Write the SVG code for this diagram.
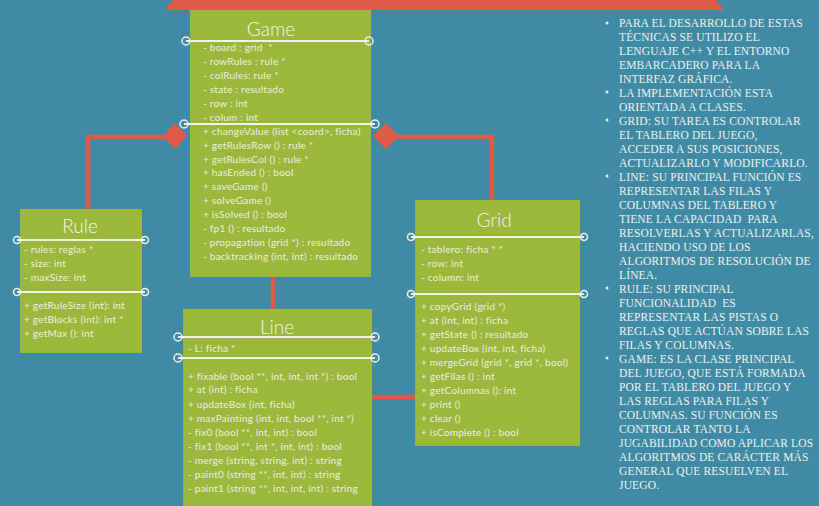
<svg xmlns="http://www.w3.org/2000/svg" width="819" height="506" viewBox="0 0 819 506">
<style>
.bg{fill:#3F8BA5}
.box{fill:#9BB83C}
.red{fill:#E05A47}
.conn{stroke:#E05A47;stroke-width:4.5;fill:none}
.div{stroke:#F2F2E6;stroke-width:1.8}
.dot{fill:none;stroke:#F2F2E6;stroke-width:1.5}
.t{font-family:Lato,"Open Sans",sans-serif;font-size:10px;letter-spacing:0.25px;fill:#EEF1E0;white-space:pre}
.h{font-family:Lato,"Open Sans",sans-serif;font-size:19px;font-weight:300;fill:#F4F6EA;text-anchor:middle}
.r{font-family:"Liberation Serif","DejaVu Serif",serif;font-size:11.5px;fill:#F2F2EE;white-space:pre;letter-spacing:0.15px}
</style>
<rect class="bg" x="0" y="0" width="819" height="506"/>
<polygon class="red" points="173,0 716,0 724,10 165,10"/>

<g id="connectors">
  <polyline class="conn" points="175,137 88,137 88,209"/>
  <polyline class="conn" points="386,137 492,137 492,200"/>
  <line class="conn" x1="273" y1="277" x2="273" y2="309"/>
  <line class="conn" x1="372" y1="397" x2="415" y2="397"/>
  <polygon class="red" points="175,123 187,136 175,149 163,136"/>
  <polygon class="red" points="386,123 399,136 386,149 373,136"/>
</g>

<g id="game">
  <rect class="box" x="190" y="10" width="181" height="267"/>
  <text class="h" x="271" y="36">Game</text>
  <line class="div" x1="186" y1="41" x2="369" y2="41"/>
  <circle class="dot" cx="186" cy="41" r="4"/>
  <circle class="dot" cx="369" cy="41" r="4"/>
  <line class="div" x1="184" y1="124" x2="375" y2="124"/>
  <circle class="dot" cx="184" cy="124" r="4"/>
  <circle class="dot" cx="375" cy="124" r="4"/>
  <text class="t" x="203" y="50.5">- board : grid  *</text>
  <text class="t" x="203" y="64.5">- rowRules : rule *</text>
  <text class="t" x="203" y="78.5">- colRules: rule *</text>
  <text class="t" x="203" y="92.5">- state : resultado</text>
  <text class="t" x="203" y="106.5">- row : int</text>
  <text class="t" x="203" y="120.5">- colum : int</text>
  <text class="t" x="203" y="134.5">+ changeValue (list &lt;coord&gt;, ficha)</text>
  <text class="t" x="203" y="148.5">+ getRulesRow () : rule *</text>
  <text class="t" x="203" y="162.5">+ getRulesCol () : rule *</text>
  <text class="t" x="203" y="176">+ hasEnded () : bool</text>
  <text class="t" x="203" y="190">+ saveGame ()</text>
  <text class="t" x="203" y="204">+ solveGame ()</text>
  <text class="t" x="203" y="218">+ isSolved () : bool</text>
  <text class="t" x="203" y="231.5">- fp1 () : resultado</text>
  <text class="t" x="203" y="245.5">- propagation (grid *) : resultado</text>
  <text class="t" x="203" y="259.5">- backtracking (int, int) : resultado</text>
</g>

<g id="rule">
  <rect class="box" x="20" y="209" width="122" height="144"/>
  <text class="h" x="80" y="232.5">Rule</text>
  <line class="div" x1="17" y1="240" x2="145" y2="240"/>
  <circle class="dot" cx="17" cy="240" r="3.5"/>
  <circle class="dot" cx="145" cy="240" r="3.5"/>
  <line class="div" x1="17" y1="292" x2="145" y2="292"/>
  <circle class="dot" cx="17" cy="292" r="3.5"/>
  <circle class="dot" cx="145" cy="292" r="3.5"/>
  <text class="t" x="24" y="252.5">- rules: reglas *</text>
  <text class="t" x="24" y="266.5">- size: int</text>
  <text class="t" x="24" y="280.5">- maxSize: int</text>
  <text class="t" x="24" y="308.5">+ getRuleSize (int): int</text>
  <text class="t" x="24" y="322.5">+ getBlocks (int): int *</text>
  <text class="t" x="24" y="336.5">+ getMax (): int</text>
</g>

<g id="grid">
  <rect class="box" x="415" y="200" width="165" height="246"/>
  <text class="h" x="494" y="226.5">Grid</text>
  <line class="div" x1="411" y1="237" x2="584" y2="237"/>
  <circle class="dot" cx="411" cy="237" r="3.5"/>
  <circle class="dot" cx="584" cy="237" r="3.5"/>
  <line class="div" x1="411" y1="294" x2="584" y2="294"/>
  <circle class="dot" cx="411" cy="294" r="3.5"/>
  <circle class="dot" cx="584" cy="294" r="3.5"/>
  <text class="t" x="421" y="252.5">- tablero: ficha * *</text>
  <text class="t" x="421" y="266.5">- row: int</text>
  <text class="t" x="421" y="280.5">- column: int</text>
  <text class="t" x="421" y="309.5">+ copyGrid (grid *)</text>
  <text class="t" x="421" y="323.5">+ at (int, int) : ficha</text>
  <text class="t" x="421" y="337.5">+ getState () : resultado</text>
  <text class="t" x="421" y="351.5">+ updateBox (int, int, ficha)</text>
  <text class="t" x="421" y="365.5">+ mergeGrid (grid *, grid *, bool)</text>
  <text class="t" x="421" y="379.5">+ getFilas () : int</text>
  <text class="t" x="421" y="393.5">+ getColumnas (): int</text>
  <text class="t" x="421" y="407.5">+ print ()</text>
  <text class="t" x="421" y="421.5">+ clear ()</text>
  <text class="t" x="421" y="435.5">+ isComplete () : bool</text>
</g>

<g id="line">
  <rect class="box" x="183" y="309" width="189" height="197"/>
  <text class="h" x="277" y="333.5">Line</text>
  <line class="div" x1="178" y1="337" x2="375" y2="337"/>
  <circle class="dot" cx="178" cy="337" r="4"/>
  <circle class="dot" cx="375" cy="337" r="4"/>
  <line class="div" x1="178" y1="358" x2="375" y2="358"/>
  <circle class="dot" cx="178" cy="358" r="4"/>
  <circle class="dot" cx="375" cy="358" r="4"/>
  <text class="t" x="188" y="351.5">- L: ficha *</text>
  <text class="t" x="188" y="379.5">+ fixable (bool **, int, int, int *) : bool</text>
  <text class="t" x="188" y="393">+ at (int) : ficha</text>
  <text class="t" x="188" y="407.5">+ updateBox (int, ficha)</text>
  <text class="t" x="188" y="421.5">+ maxPainting (int, int, bool **, int *)</text>
  <text class="t" x="188" y="435.5">- fix0 (bool **, int, int) : bool</text>
  <text class="t" x="188" y="449.5">- fix1 (bool **, int *, int, int) : bool</text>
  <text class="t" x="188" y="463.5">- merge (string, string, int) : string</text>
  <text class="t" x="188" y="477.5">- paint0 (string **, int, int) : string</text>
  <text class="t" x="188" y="491.5">- paint1 (string **, int, int, int) : string</text>
</g>

<g id="notes">
  <circle cx="607" cy="23" r="1.5" fill="#F2F2EE"/>
  <circle cx="607" cy="92" r="1.5" fill="#F2F2EE"/>
  <circle cx="607" cy="120" r="1.5" fill="#F2F2EE"/>
  <circle cx="607" cy="176" r="1.5" fill="#F2F2EE"/>
  <circle cx="607" cy="288" r="1.5" fill="#F2F2EE"/>
  <circle cx="607" cy="358" r="1.5" fill="#F2F2EE"/>
  <text class="r" x="619" y="26.5">PARA EL DESARROLLO DE ESTAS</text>
  <text class="r" x="619" y="40.5">TÉCNICAS SE UTILIZO EL</text>
  <text class="r" x="619" y="54.5">LENGUAJE C++ Y EL ENTORNO</text>
  <text class="r" x="619" y="68.5">EMBARCADERO PARA LA</text>
  <text class="r" x="619" y="82.5">INTERFAZ GRÁFICA.</text>
  <text class="r" x="619" y="96.5">LA IMPLEMENTACIÓN ESTA</text>
  <text class="r" x="619" y="110.5">ORIENTADA A CLASES.</text>
  <text class="r" x="619" y="124.5">GRID: SU TAREA ES CONTROLAR</text>
  <text class="r" x="619" y="138.5">EL TABLERO DEL JUEGO,</text>
  <text class="r" x="619" y="152.5">ACCEDER A SUS POSICIONES,</text>
  <text class="r" x="619" y="166.5">ACTUALIZARLO Y MODIFICARLO.</text>
  <text class="r" x="619" y="180.5">LINE: SU PRINCIPAL FUNCIÓN ES</text>
  <text class="r" x="619" y="194.5">REPRESENTAR LAS FILAS Y</text>
  <text class="r" x="619" y="208.5">COLUMNAS DEL TABLERO Y</text>
  <text class="r" x="619" y="222.5">TIENE LA CAPACIDAD  PARA</text>
  <text class="r" x="619" y="236.5">RESOLVERLAS Y ACTUALIZARLAS,</text>
  <text class="r" x="619" y="250.5">HACIENDO USO DE LOS</text>
  <text class="r" x="619" y="264.5">ALGORITMOS DE RESOLUCIÓN DE</text>
  <text class="r" x="619" y="278.5">LÍNEA.</text>
  <text class="r" x="619" y="292.5">RULE: SU PRINCIPAL</text>
  <text class="r" x="619" y="306.5">FUNCIONALIDAD  ES</text>
  <text class="r" x="619" y="320.5">REPRESENTAR LAS PISTAS O</text>
  <text class="r" x="619" y="334.5">REGLAS QUE ACTÚAN SOBRE LAS</text>
  <text class="r" x="619" y="348.5">FILAS Y COLUMNAS.</text>
  <text class="r" x="619" y="362.5">GAME: ES LA CLASE PRINCIPAL</text>
  <text class="r" x="619" y="376.5">DEL JUEGO, QUE ESTÁ FORMADA</text>
  <text class="r" x="619" y="390.5">POR EL TABLERO DEL JUEGO Y</text>
  <text class="r" x="619" y="404.5">LAS REGLAS PARA FILAS Y</text>
  <text class="r" x="619" y="418.5">COLUMNAS. SU FUNCIÓN ES</text>
  <text class="r" x="619" y="432.5">CONTROLAR TANTO LA</text>
  <text class="r" x="619" y="446.5">JUGABILIDAD COMO APLICAR LOS</text>
  <text class="r" x="619" y="460.5">ALGORITMOS DE CARÁCTER MÁS</text>
  <text class="r" x="619" y="474.5">GENERAL QUE RESUELVEN EL</text>
  <text class="r" x="619" y="488.5">JUEGO.</text>
</g>
</svg>
